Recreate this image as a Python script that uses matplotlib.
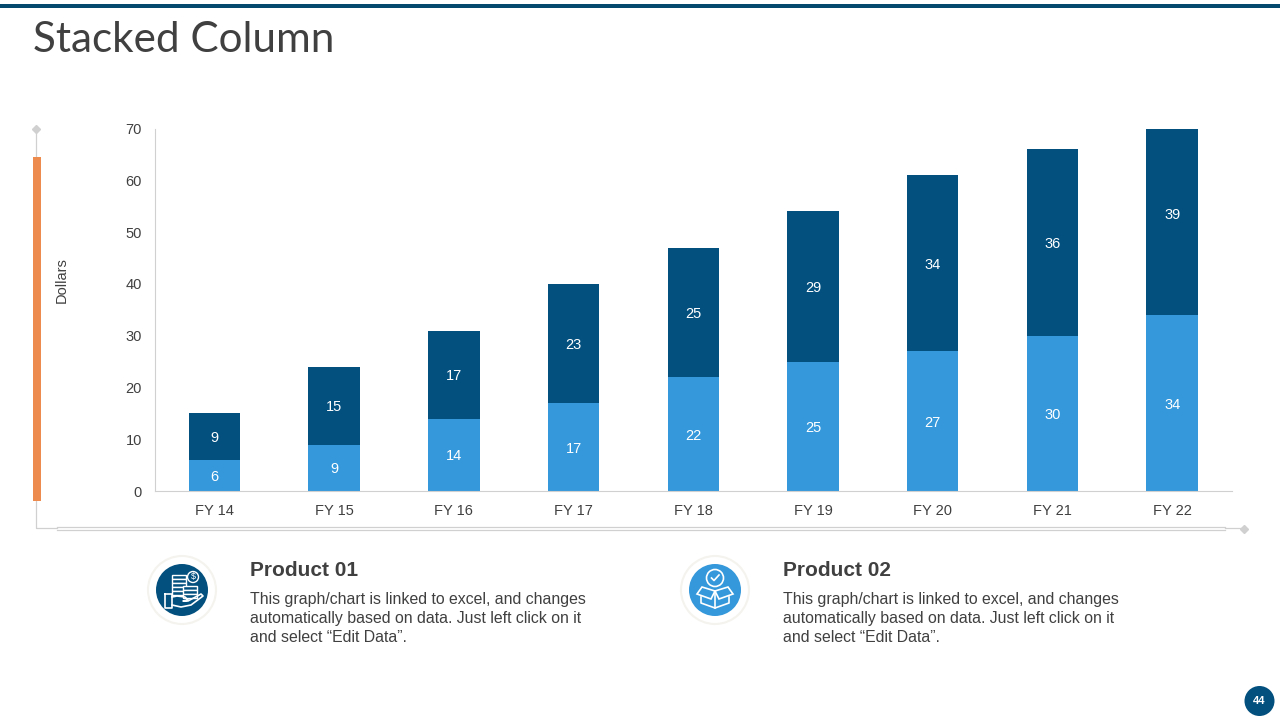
import matplotlib
matplotlib.use('Agg')
import matplotlib.pyplot as plt
from matplotlib.patches import Circle, Polygon, Rectangle

plt.rcParams['font.family'] = ['Liberation Sans', 'DejaVu Sans']

categories = ['FY 14', 'FY 15', 'FY 16', 'FY 17', 'FY 18', 'FY 19', 'FY 20', 'FY 21', 'FY 22']
product_01 = [6, 9, 14, 17, 22, 25, 27, 30, 34]
product_02 = [9, 15, 17, 23, 25, 29, 34, 36, 39]
y_ticks = [0, 10, 20, 30, 40, 50, 60, 70]

DARK = '#03507F'
LIGHT = '#3498DB'
ORANGE = '#ED8B4F'
TEXT = '#404040'
GREY = '#D0D0D0'
W, H = 1280, 720

body = 'This graph/chart is linked to excel, and changes\nautomatically based on data. Just left click on it\nand select “Edit Data”.'

fig = plt.figure(figsize=(12.8, 7.2), dpi=100)

# overlay in pixel coordinates for the slide furniture
bg = fig.add_axes([0, 0, 1, 1])
bg.set_xlim(0, W)
bg.set_ylim(H, 0)
bg.axis('off')

bg.add_patch(Rectangle((0, 4), W, 4, color='#054A6E', lw=0))
bg.text(33, 52, 'Stacked Column', fontsize=30.4, color=TEXT, family='Lato',
        va='baseline', ha='left')

# bracket round the chart
bg.plot([36, 36, 57], [129, 528, 528], color=GREY, lw=0.9)
bg.plot([1225, 1243], [528, 528], color=GREY, lw=0.9)
bg.plot([57, 1225], [526.5, 526.5], color=GREY, lw=0.9)
bg.plot([57, 1225], [530, 530], color=GREY, lw=0.9)
bg.plot([36, 1243.5], [129, 528.5], ls='none', marker='D', ms=4, color=GREY)
bg.add_patch(Rectangle((33, 157), 8, 344, color=ORANGE, lw=0, zorder=3))
bg.text(62, 280, 'Dollars', rotation=90, fontsize=10.5, color=TEXT, ha='center', va='center')


def badge(cx, cy, color):
    bg.add_patch(Circle((cx, cy), 34, fc='white', ec='#F5F3EE', lw=1.5))
    bg.add_patch(Circle((cx, cy), 26, fc=color, ec='none'))


def money_icon(cx, cy):
    # coins
    for dx, dy in [(-10, -15), (-10, -11), (-10, -7), (-10, -3), (-10, 1),
                   (1, -4), (1, 0), (1, 4)]:
        bg.add_patch(Rectangle((cx + dx, cy + dy), 14, 3.6, fc=DARK, ec='white', lw=1))
    bg.add_patch(Circle((cx + 11, cy - 13), 5.5, fc=DARK, ec='white', lw=1))
    bg.text(cx + 11, cy - 13, '$', color='white', fontsize=6.5, ha='center', va='center')
    # hand
    bg.plot([cx - 17, cx - 10, cx - 10, cx - 17, cx - 17],
            [cy + 4, cy + 4, cy + 18, cy + 18, cy + 4], color='white', lw=1.2)
    bg.plot([cx - 10, cx - 5, cx + 3, cx + 6, cx + 1, cx + 6, cx + 19, cx + 21, cx + 9, cx - 1, cx - 10],
            [cy + 7, cy + 6, cy + 7, cy + 10, cy + 11, cy + 11, cy + 4, cy + 6, cy + 15, cy + 17, cy + 15],
            color='white', lw=1.2)


def box_icon(cx, cy):
    bg.add_patch(Circle((cx, cy - 12), 8.5, fc=LIGHT, ec='white', lw=1.2))
    bg.plot([cx - 3.5, cx - 1, cx + 4], [cy - 12, cy - 9.5, cy - 15], color='white', lw=1.2)
    bg.add_patch(Polygon([(cx, cy + 1), (cx + 13, cy - 3), (cx + 18, cy + 4), (cx + 4, cy + 9), (cx, cy + 1),
                          (cx - 4, cy + 9), (cx - 18, cy + 4), (cx - 13, cy - 3)],
                         closed=True, fc=LIGHT, ec='white', lw=1.2))
    bg.plot([cx - 14, cx - 14, cx, cx + 14, cx + 14], [cy + 7, cy + 13, cy + 18, cy + 13, cy + 7],
            color='white', lw=1.2)
    bg.plot([cx, cx], [cy + 1, cy + 18], color='white', lw=1.2)


badge(182, 590, DARK)
money_icon(182, 590)
badge(715, 590, LIGHT)
box_icon(715, 590)

for x, name in [(250, 'Product 01'), (783, 'Product 02')]:
    bg.text(x, 570, name, fontsize=15, fontweight='bold', color=TEXT, va='center', ha='left')
    bg.text(x, 618.5, body, fontsize=11.4, color=TEXT, va='center', ha='left', linespacing=1.31)

# page number
bg.add_patch(Circle((1259.5, 701), 15, fc=DARK, ec='none'))
bg.text(1259.5, 701, '44', color='white', fontsize=8, fontweight='bold', ha='center', va='center')

# the chart itself
ax = fig.add_axes([154.5 / W, 1 - 491.2 / H, (1232 - 154.5) / W, (491.2 - 128.6) / H])
ax.patch.set_alpha(0)
xs = list(range(len(categories)))
ax.bar(xs, product_01, width=0.43, color=LIGHT, label='Product 01')
ax.bar(xs, product_02, width=0.43, bottom=product_01, color=DARK, label='Product 02')

for x, a, b in zip(xs, product_01, product_02):
    for y, v in [(a / 2, a), (a + b / 2, b)]:
        ax.annotate(str(v), (x, y), xytext=(0, -1), textcoords='offset points', color='white',
                    fontsize=10.5, ha='center', va='center')

ax.set_xlim(-0.5, len(categories) - 0.5)
ax.set_ylim(0, 70)
ax.set_yticks(y_ticks)
ax.set_xticks(xs)
ax.set_xticklabels(categories)
ax.tick_params(axis='both', length=0, labelsize=10.5, labelcolor=TEXT)
ax.tick_params(axis='x', pad=9)
ax.tick_params(axis='y', pad=9)
for side in ['top', 'right']:
    ax.spines[side].set_visible(False)
for side in ['left', 'bottom']:
    ax.spines[side].set_color(GREY)
    ax.spines[side].set_linewidth(0.8)

fig.savefig('out.png', dpi=100)
